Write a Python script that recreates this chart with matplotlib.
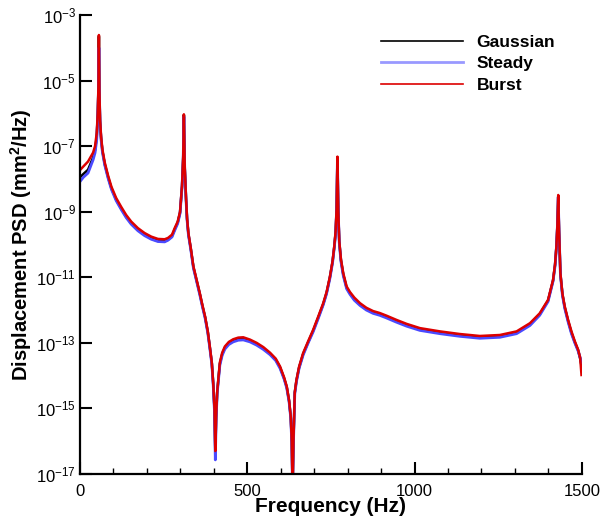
import numpy as np
import matplotlib
matplotlib.use('Agg')
import matplotlib.pyplot as plt
from matplotlib.ticker import FixedLocator, FixedFormatter, MultipleLocator

plt.rcParams['font.family'] = ['Liberation Sans', 'DejaVu Sans']
plt.rcParams['mathtext.fontset'] = 'custom'
plt.rcParams['mathtext.rm'] = 'Liberation Sans'
plt.rcParams['mathtext.bf'] = 'Liberation Sans:bold'
plt.rcParams['mathtext.default'] = 'regular'

# frequency points (Hz)
freq = [0, 10, 24, 39, 45, 50, 53, 55, 56.5, 58,
        60, 63, 67, 74, 84, 94, 108, 123, 138, 153,
        173, 193, 213, 233, 253, 263, 275, 283, 292, 299,
        305, 308.5, 310.5, 313, 317, 320, 324, 331, 339, 348,
        358, 366, 374, 382, 388, 394, 398, 402, 404.5, 407,
        410, 418, 425, 433, 445, 458, 473, 488, 508, 528,
        548, 568, 585, 598, 610, 618, 625, 630, 633, 635.4,
        638, 642, 647, 655, 667, 682, 697, 712, 727, 737,
        747, 755, 760, 764, 767, 769.5, 772, 775, 780, 787,
        797, 807, 820, 837, 856, 876, 896, 916, 946, 976,
        1016, 1076, 1135, 1195, 1255, 1305, 1345, 1374, 1399, 1414,
        1420, 1424, 1427, 1429.5, 1432, 1436, 1442, 1449, 1459, 1469,
        1479, 1489, 1495, 1499]

# log10 of displacement PSD (mm^2/Hz)
gauss_log = [-7.95, -7.85, -7.72, -7.35, -7.12, -6.72, -6.05, -5.30, -3.65, -5.40,
             -6.25, -6.75, -7.15, -7.55, -7.95, -8.29, -8.63, -8.90, -9.15, -9.35,
             -9.55, -9.70, -9.82, -9.89, -9.90, -9.85, -9.74, -9.54, -9.33, -9.03,
             -8.22, -7.35, -6.05, -7.65, -8.62, -9.22, -9.68, -10.12, -10.69, -11.08,
             -11.50, -11.88, -12.22, -12.67, -13.13, -13.62, -14.22, -15.05, -16.40, -15.25,
             -14.52, -13.64, -13.34, -13.15, -13.01, -12.93, -12.88, -12.87, -12.94, -13.04,
             -13.17, -13.33, -13.51, -13.75, -14.08, -14.35, -14.78, -15.28, -16.02, -17.50,
             -16.02, -14.52, -14.15, -13.75, -13.34, -12.98, -12.63, -12.23, -11.82, -11.48,
             -11.00, -10.52, -10.08, -9.65, -8.95, -7.35, -9.02, -9.92, -10.48, -10.92,
             -11.32, -11.49, -11.67, -11.83, -11.97, -12.07, -12.13, -12.21, -12.34, -12.46,
             -12.59, -12.69, -12.77, -12.83, -12.80, -12.69, -12.44, -12.13, -11.71, -11.10,
             -10.62, -10.08, -9.42, -8.52, -9.62, -10.90, -11.52, -11.92, -12.33, -12.69,
             -12.98, -13.23, -13.48, -13.70]

steady_log = [-8.08, -7.95, -7.82, -7.42, -7.20, -6.80, -6.10, -5.40, -4.00, -5.50,
              -6.30, -6.80, -7.18, -7.58, -7.98, -8.32, -8.66, -8.93, -9.18, -9.38,
              -9.58, -9.73, -9.84, -9.91, -9.92, -9.87, -9.77, -9.57, -9.36, -9.05,
              -8.25, -7.40, -6.10, -7.70, -8.65, -9.25, -9.70, -10.15, -10.72, -11.10,
              -11.53, -11.90, -12.25, -12.70, -13.16, -13.65, -14.25, -15.10, -16.57, -15.30,
              -14.55, -13.68, -13.38, -13.19, -13.05, -12.97, -12.92, -12.91, -12.97, -13.07,
              -13.20, -13.36, -13.54, -13.78, -14.10, -14.38, -14.80, -15.30, -16.05, -17.50,
              -16.05, -14.55, -14.18, -13.77, -13.37, -13.00, -12.66, -12.26, -11.84, -11.50,
              -11.03, -10.55, -10.10, -9.68, -9.00, -7.40, -9.05, -9.95, -10.52, -10.95,
              -11.35, -11.52, -11.70, -11.86, -12.00, -12.10, -12.16, -12.24, -12.37, -12.49,
              -12.62, -12.72, -12.80, -12.86, -12.83, -12.72, -12.47, -12.16, -11.74, -11.12,
              -10.65, -10.10, -9.45, -8.55, -9.65, -10.92, -11.55, -11.95, -12.36, -12.72,
              -13.00, -13.25, -13.45, -13.62]

burst_log = [-7.73, -7.62, -7.47, -7.20, -7.00, -6.60, -6.00, -5.20, -3.61, -5.30,
             -6.20, -6.70, -7.10, -7.50, -7.90, -8.24, -8.58, -8.85, -9.10, -9.30,
             -9.50, -9.65, -9.76, -9.83, -9.84, -9.80, -9.70, -9.50, -9.30, -9.00,
             -8.20, -7.30, -6.03, -7.60, -8.60, -9.20, -9.65, -10.10, -10.67, -11.05,
             -11.48, -11.85, -12.20, -12.65, -13.11, -13.60, -14.20, -15.00, -16.30, -15.20,
             -14.50, -13.60, -13.30, -13.11, -12.97, -12.89, -12.84, -12.83, -12.90, -13.00,
             -13.13, -13.30, -13.48, -13.72, -14.05, -14.33, -14.75, -15.25, -16.00, -17.50,
             -16.00, -14.50, -14.13, -13.72, -13.31, -12.95, -12.60, -12.20, -11.79, -11.45,
             -10.98, -10.50, -10.06, -9.60, -8.90, -7.32, -9.00, -9.90, -10.45, -10.88,
             -11.28, -11.45, -11.62, -11.79, -11.93, -12.03, -12.09, -12.17, -12.30, -12.42,
             -12.55, -12.65, -12.73, -12.79, -12.76, -12.65, -12.40, -12.10, -11.69, -11.08,
             -10.60, -10.06, -9.40, -8.49, -9.60, -10.88, -11.50, -11.89, -12.30, -12.65,
             -12.95, -13.21, -13.45, -13.98]

y_ticks = [1e-3, 1e-5, 1e-7, 1e-9, 1e-11, 1e-13, 1e-15, 1e-17]
y_labels = [r'$10^{-3}$', r'$10^{-5}$', r'$10^{-7}$', r'$10^{-9}$',
            r'$10^{-11}$', r'$10^{-13}$', r'$10^{-15}$', r'$10^{-17}$']

fig = plt.figure(figsize=(6.14, 5.19), dpi=100)
ax = fig.add_axes([0.1303, 0.0867, 0.8173, 0.8844])

ax.plot(freq, 10 ** np.array(gauss_log), color='black', lw=1.8, label='Gaussian')
ax.plot(freq, 10 ** np.array(steady_log), color='#4a4aff', lw=2.0, label='Steady')
ax.plot(freq, 10 ** np.array(burst_log), color='#dd0000', lw=1.8, label='Burst')

ax.set_yscale('log')
ax.set_xlim(0, 1500)
ax.set_ylim(1e-17, 1e-3)

ax.xaxis.set_major_locator(MultipleLocator(500))
ax.xaxis.set_minor_locator(MultipleLocator(100))
ax.yaxis.set_major_locator(FixedLocator(y_ticks))
ax.yaxis.set_major_formatter(FixedFormatter(y_labels))
ax.yaxis.set_minor_locator(FixedLocator([]))

ax.tick_params(axis='both', which='major', direction='in', length=8.5, width=1.5,
               labelsize=12, pad=7)
ax.tick_params(axis='x', which='minor', direction='in', length=4.5, width=1.0)
ax.tick_params(axis='y', which='major', pad=3)

for side in ['top', 'right']:
    ax.spines[side].set_visible(False)
for side in ['left', 'bottom']:
    ax.spines[side].set_linewidth(1.6)

ax.set_xlabel('Frequency (Hz)', fontsize=15, fontweight='bold')
ax.set_ylabel(r'Displacement PSD (mm$^\mathbf{2}$/Hz)', fontsize=14.5,
              fontweight='bold')
ax.xaxis.set_label_coords(0.5, -0.05)
ax.yaxis.set_label_coords(-0.092, 0.5)

leg = ax.legend(loc='upper left', bbox_to_anchor=(0.60, 0.957), frameon=False,
                prop={'weight': 'bold', 'size': 12.5}, handlelength=4.7,
                handletextpad=0.8, labelspacing=0.36, borderaxespad=0, borderpad=0)
for line in leg.get_lines():
    line.set_linewidth(1.2)
leg.get_lines()[1].set_color('#9999ff')
leg.get_lines()[1].set_linewidth(2)

fig.savefig('out.png', dpi=100)
